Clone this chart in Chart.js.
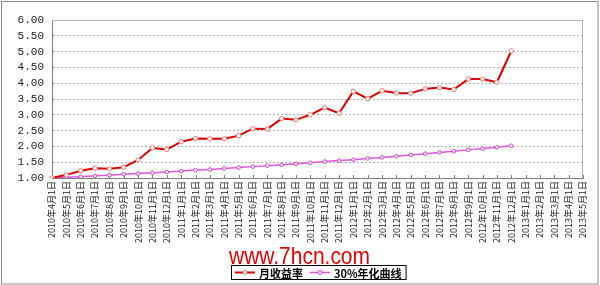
<!DOCTYPE html>
<html>
<head>
<meta charset="utf-8">
<script src="https://cdn.jsdelivr.net/npm/chart.js@4.4.0/dist/chart.umd.min.js"></script>
<style>
  html, body { margin: 0; padding: 0; background: #fff; }
  #wrap { width: 600px; height: 285px; position: relative; }
</style>
</head>
<body>
<div id="wrap"><canvas id="myChart" width="600" height="285"></canvas></div>
<script>
'use strict';

// 月份
var months = [
  '2010年4月1日', '2010年5月1日', '2010年6月1日', '2010年7月1日', '2010年8月1日', '2010年9月1日',
  '2010年10月1日', '2010年11月1日', '2010年12月1日', '2011年1月1日', '2011年2月1日', '2011年3月1日',
  '2011年4月1日', '2011年5月1日', '2011年6月1日', '2011年7月1日', '2011年8月1日', '2011年9月1日',
  '2011年10月1日', '2011年11月1日', '2011年12月1日', '2012年1月1日', '2012年2月1日', '2012年3月1日',
  '2012年4月1日', '2012年5月1日', '2012年6月1日', '2012年7月1日', '2012年8月1日', '2012年9月1日',
  '2012年10月1日', '2012年11月1日', '2012年12月1日', '2013年1月1日', '2013年2月1日', '2013年3月1日',
  '2013年4月1日', '2013年5月1日'
];

// 月收益率
var monthlyReturn = [
  1.00, 1.10, 1.23, 1.31, 1.29, 1.34, 1.57, 1.95, 1.90, 2.15, 2.25, 2.24,
  2.24, 2.34, 2.56, 2.55, 2.88, 2.84, 3.00, 3.23, 3.05, 3.74, 3.51, 3.76,
  3.69, 3.68, 3.82, 3.86, 3.80, 4.13, 4.13, 4.03, 5.02
];

// 30%年化曲线
var annual30 = [
  1.00, 1.02, 1.04, 1.07, 1.09, 1.12, 1.14, 1.17, 1.19, 1.22, 1.25, 1.27,
  1.30, 1.33, 1.36, 1.39, 1.42, 1.45, 1.48, 1.52, 1.55, 1.58, 1.62, 1.65,
  1.69, 1.73, 1.77, 1.81, 1.85, 1.89, 1.93, 1.97, 2.02
];

var yMin = 1, yMax = 6, yStep = 0.5;
var watermark = 'www.7hcn.com';

//外枠・プロット枠・目盛り・透かし・凡例
var decoPlugin = {
  id: 'deco',
  beforeDraw: function(chart) {
    var ctx = chart.ctx;
    ctx.save();
    ctx.fillStyle = '#fff';
    ctx.fillRect(0, 0, chart.width, chart.height);
    ctx.strokeStyle = '#8a8a8a';
    ctx.lineWidth = 1;
    ctx.strokeRect(1.5, 1.5, chart.width - 3.5, chart.height - 2.5);
    ctx.restore();
  },
  beforeDatasetsDraw: function(chart) {
    var ctx = chart.ctx, a = chart.chartArea;
    ctx.save();
    ctx.strokeStyle = '#b4b4b4';
    ctx.lineWidth = 1;
    ctx.beginPath();
    ctx.moveTo(a.left, a.top + 0.5);
    ctx.lineTo(a.right - 0.5, a.top + 0.5);
    ctx.lineTo(a.right - 0.5, a.bottom);
    ctx.stroke();
    // x軸の内向き目盛り
    var xs = chart.scales.x;
    ctx.strokeStyle = '#808080';
    ctx.beginPath();
    for (var i = 0; i < xs.ticks.length; i++) {
      var px = Math.round(xs.getPixelForTick(i)) + 0.5;
      ctx.moveTo(px, a.bottom);
      ctx.lineTo(px, a.bottom - 3);
    }
    ctx.stroke();
    ctx.restore();
  },
  afterDraw: function(chart) {
    var ctx = chart.ctx;
    ctx.save();
    // 透かし
    ctx.fillStyle = '#e60000';
    ctx.font = '24px "Liberation Sans", Arial, sans-serif';
    ctx.textBaseline = 'alphabetic';
    ctx.textAlign = 'left';
    ctx.fillText(watermark, 229, 264, 141);

    // 凡例
    ctx.font = 'bold 11px "Noto Sans CJK SC", sans-serif';
    ctx.textBaseline = 'middle';
    var items = chart.data.datasets;
    var markW = 20, gap = 4, itemGap = 7, padX = 4;
    var total = padX * 2;
    items.forEach(function(ds, i) {
      total += markW + gap + ctx.measureText(ds.label).width + (i < items.length - 1 ? itemGap : 0);
    });
    var cx = 318, top = 265, h = 14;
    var x = Math.round(cx - total / 2);
    ctx.fillStyle = '#fff';
    ctx.fillRect(x, top, total, h);
    ctx.strokeStyle = '#000';
    ctx.lineWidth = 1;
    ctx.strokeRect(x + 0.5, top + 0.5, total, h);
    var cy = top + h / 2 + 0.5;
    x += padX;
    items.forEach(function(ds) {
      ctx.strokeStyle = ds.borderColor;
      ctx.lineWidth = ds.borderWidth;
      ctx.beginPath();
      ctx.moveTo(x, cy);
      ctx.lineTo(x + markW, cy);
      ctx.stroke();
      ctx.fillStyle = '#fff';
      ctx.strokeStyle = ds.pointBorderColor;
      ctx.lineWidth = 1;
      ctx.beginPath();
      ctx.arc(x + markW / 2, cy, 2, 0, Math.PI * 2);
      ctx.fill();
      ctx.stroke();
      x += markW + gap;
      ctx.fillStyle = '#000';
      ctx.fillText(ds.label, x, cy + 1);
      x += ctx.measureText(ds.label).width + itemGap;
    });
    ctx.restore();
  }
};

var ctx = document.getElementById('myChart').getContext('2d');
var myChart = new Chart(ctx, {
  type: 'line',
  data: {
    labels: months,
    datasets: [{
      label: '月收益率',
      data: monthlyReturn,
      borderColor: '#e00000',
      borderWidth: 2,
      pointRadius: 2.2,
      pointBackgroundColor: '#fff',
      pointBorderColor: '#f07878',
      pointBorderWidth: 1,
      tension: 0
    }, {
      label: '30%年化曲线',
      data: annual30,
      borderColor: '#e055e0',
      borderWidth: 1.5,
      pointRadius: 1.8,
      pointBackgroundColor: '#fff',
      pointBorderColor: '#d040d0',
      pointBorderWidth: 1,
      tension: 0
    }]
  },
  options: {
    responsive: false,
    animation: false,
    devicePixelRatio: 1,
    layout: {
      padding: { left: 0, right: 17, top: 20, bottom: 0 }
    },
    plugins: {
      legend: { display: false },
      tooltip: { enabled: false }
    },
    scales: {
      x: {
        offset: false,
        afterFit: function(s) { s.height = 107; },
        grid: { display: false, drawTicks: false },
        border: { display: true, color: '#808080', width: 1 },
        ticks: {
          autoSkip: false,
          maxRotation: 90,
          minRotation: 90,
          padding: 3,
          color: '#222',
          font: { family: '"Noto Sans CJK SC", sans-serif', size: 9 }
        }
      },
      y: {
        min: yMin,
        max: yMax,
        afterFit: function(s) { s.width = 52; },
        grid: { color: '#b0b0b0', drawTicks: false },
        border: { display: true, color: '#808080', width: 1, dash: [2, 2] },
        ticks: {
          autoSkip: false,
          stepSize: yStep,
          padding: 8,
          color: '#222',
          font: { family: '"Liberation Mono", monospace', size: 11 },
          callback: function(v) { return Number(v).toFixed(2); }
        }
      }
    }
  },
  plugins: [decoPlugin]
});
</script>
</body>
</html>
